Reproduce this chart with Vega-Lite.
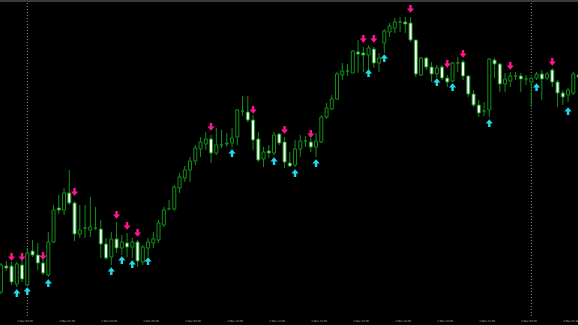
{
  "$schema": "https://vega.github.io/schema/vega-lite/v6.json",
  "width": 578,
  "height": 318,
  "autosize": "none",
  "padding": {"left": 0, "right": 0, "top": 0, "bottom": 7},
  "background": "#000000",
  "config": {"view": {"stroke": null}},
  "datasets": {
    "candles": [
      {"k":-5,"open":28,"high":57,"low":26,"close":55},
      {"k":-4,"open":54,"high":59,"low":49,"close":52},
      {"k":-3,"open":54,"high":58,"low":35,"close":38},
      {"k":-2,"open":36,"high":58,"low":33,"close":56},
      {"k":-1,"open":55,"high":60,"low":38,"close":41},
      {"k":0,"open":35,"high":72,"low":34,"close":67},
      {"k":1,"open":69,"high":80,"low":63,"close":65},
      {"k":2,"open":65,"high":77,"low":50,"close":57},
      {"k":3,"open":57,"high":67,"low":45,"close":47},
      {"k":4,"open":45,"high":88,"low":43,"close":78},
      {"k":5,"open":78,"high":115,"low":77,"close":110},
      {"k":6,"open":112,"high":125,"low":106,"close":110},
      {"k":7,"open":110,"high":132,"low":105,"close":127},
      {"k":8,"open":127,"high":150,"low":115,"close":117},
      {"k":9,"open":117,"high":119,"low":79,"close":86},
      {"k":10,"open":86,"high":115,"low":82,"close":90},
      {"k":11,"open":92,"high":115,"low":82,"close":92},
      {"k":12,"open":90,"high":123,"low":83,"close":93},
      {"k":13,"open":92,"high":113,"low":90,"close":92},
      {"k":14,"open":91,"high":100,"low":62,"close":76},
      {"k":15,"open":76,"high":82,"low":60,"close":62},
      {"k":16,"open":63,"high":88,"low":55,"close":81},
      {"k":17,"open":81,"high":98,"low":67,"close":72},
      {"k":18,"open":72,"high":85,"low":65,"close":78},
      {"k":19,"open":77,"high":87,"low":63,"close":73},
      {"k":20,"open":73,"high":82,"low":62,"close":78},
      {"k":21,"open":78,"high":80,"low":53,"close":59},
      {"k":22,"open":58,"high":75,"low":55,"close":73},
      {"k":23,"open":72,"high":82,"low":63,"close":78},
      {"k":24,"open":77,"high":88,"low":72,"close":81},
      {"k":25,"open":80,"high":100,"low":77,"close":97},
      {"k":26,"open":95,"high":113,"low":93,"close":110},
      {"k":27,"open":111,"high":120,"low":110,"close":111},
      {"k":28,"open":111,"high":135,"low":109,"close":133},
      {"k":29,"open":132,"high":147,"low":127,"close":143},
      {"k":30,"open":142,"high":154,"low":138,"close":150},
      {"k":31,"open":150,"high":163,"low":138,"close":159},
      {"k":32,"open":159,"high":175,"low":155,"close":172},
      {"k":33,"open":171,"high":183,"low":163,"close":178},
      {"k":34,"open":176,"high":188,"low":170,"close":181},
      {"k":35,"open":181,"high":185,"low":157,"close":167},
      {"k":36,"open":167,"high":192,"low":165,"close":175},
      {"k":37,"open":175,"high":190,"low":172,"close":175},
      {"k":38,"open":176,"high":187,"low":173,"close":177},
      {"k":39,"open":177,"high":192,"low":173,"close":182},
      {"k":40,"open":183,"high":211,"low":175,"close":210},
      {"k":41,"open":209,"high":224,"low":204,"close":209},
      {"k":42,"open":208,"high":224,"low":198,"close":200},
      {"k":43,"open":200,"high":205,"low":170,"close":180},
      {"k":44,"open":181,"high":188,"low":158,"close":160},
      {"k":45,"open":161,"high":173,"low":153,"close":168},
      {"k":46,"open":169,"high":175,"low":162,"close":167},
      {"k":47,"open":167,"high":188,"low":165,"close":185},
      {"k":48,"open":186,"high":187,"low":175,"close":177},
      {"k":49,"open":178,"high":183,"low":152,"close":158},
      {"k":50,"open":157,"high":168,"low":153,"close":154},
      {"k":51,"open":155,"high":180,"low":153,"close":171},
      {"k":52,"open":171,"high":185,"low":163,"close":179},
      {"k":53,"open":179,"high":184,"low":173,"close":179},
      {"k":54,"open":178,"high":185,"low":168,"close":173},
      {"k":55,"open":173,"high":187,"low":163,"close":179},
      {"k":56,"open":178,"high":205,"low":177,"close":203},
      {"k":57,"open":203,"high":217,"low":201,"close":212},
      {"k":58,"open":211,"high":225,"low":210,"close":221},
      {"k":59,"open":221,"high":248,"low":220,"close":246},
      {"k":60,"open":245,"high":257,"low":240,"close":249},
      {"k":61,"open":249,"high":256,"low":244,"close":249},
      {"k":62,"open":247,"high":270,"low":247,"close":269},
      {"k":63,"open":268,"high":280,"low":247,"close":266},
      {"k":64,"open":267,"high":273,"low":248,"close":265},
      {"k":65,"open":265,"high":275,"low":247,"close":272},
      {"k":66,"open":271,"high":273,"low":252,"close":257},
      {"k":67,"open":257,"high":267,"low":248,"close":262},
      {"k":68,"open":277,"high":291,"low":267,"close":289},
      {"k":69,"open":288,"high":297,"low":283,"close":294},
      {"k":70,"open":292,"high":302,"low":287,"close":298},
      {"k":71,"open":298,"high":303,"low":288,"close":298},
      {"k":72,"open":298,"high":303,"low":287,"close":296},
      {"k":73,"open":297,"high":303,"low":278,"close":280},
      {"k":74,"open":280,"high":280,"low":243,"close":246},
      {"k":75,"open":245,"high":263,"low":244,"close":262},
      {"k":76,"open":262,"high":263,"low":250,"close":253},
      {"k":77,"open":253,"high":258,"low":238,"close":246},
      {"k":78,"open":246,"high":255,"low":242,"close":252},
      {"k":79,"open":253,"high":255,"low":240,"close":242},
      {"k":80,"open":242,"high":245,"low":233,"close":238},
      {"k":81,"open":239,"high":258,"low":238,"close":257},
      {"k":82,"open":257,"high":263,"low":248,"close":257},
      {"k":83,"open":258,"high":260,"low":240,"close":244},
      {"k":84,"open":244,"high":245,"low":223,"close":226},
      {"k":85,"open":226,"high":230,"low":213,"close":215},
      {"k":86,"open":215,"high":220,"low":203,"close":207},
      {"k":87,"open":209,"high":218,"low":204,"close":209},
      {"k":88,"open":210,"high":262,"low":203,"close":261},
      {"k":89,"open":260,"high":262,"low":242,"close":256},
      {"k":90,"open":256,"high":257,"low":228,"close":236},
      {"k":91,"open":236,"high":247,"low":228,"close":241},
      {"k":92,"open":239,"high":248,"low":233,"close":244},
      {"k":93,"open":244,"high":248,"low":240,"close":244},
      {"k":94,"open":244,"high":247,"low":228,"close":241},
      {"k":95,"open":241,"high":245,"low":235,"close":241},
      {"k":96,"open":238,"high":243,"low":213,"close":242},
      {"k":97,"open":242,"high":248,"low":240,"close":246},
      {"k":98,"open":246,"high":250,"low":220,"close":241},
      {"k":99,"open":242,"high":248,"low":240,"close":246},
      {"k":100,"open":250,"high":252,"low":233,"close":238},
      {"k":101,"open":238,"high":240,"low":213,"close":227},
      {"k":102,"open":227,"high":230,"low":215,"close":223},
      {"k":103,"open":225,"high":232,"low":218,"close":230},
      {"k":104,"open":227,"high":248,"low":225,"close":246},
      {"k":105,"open":245,"high":247,"low":240,"close":243}
    ],
    "sell": [
      {"k":-3,"p":63},{"k":-1,"p":63},{"k":3,"p":64},{"k":9,"p":128},
      {"k":17,"p":105},{"k":19,"p":94},{"k":21,"p":87},{"k":35,"p":193},
      {"k":43,"p":210},{"k":49,"p":190},{"k":54,"p":186},{"k":64,"p":281},
      {"k":66,"p":281},{"k":73,"p":311},{"k":80,"p":256},{"k":83,"p":266},
      {"k":92,"p":254},{"k":100,"p":258}
    ],
    "buy": [
      {"k":-2,"p":27},{"k":0,"p":29},{"k":4,"p":37},{"k":16,"p":49},
      {"k":18,"p":60},{"k":20,"p":56},{"k":23,"p":59},{"k":39,"p":167},
      {"k":47,"p":159},{"k":51,"p":147},{"k":55,"p":157},{"k":65,"p":247},
      {"k":68,"p":262},{"k":78,"p":238},{"k":81,"p":233},{"k":88,"p":197},
      {"k":97,"p":233},{"k":103,"p":209}
    ],
    "sep": [{"k":0},{"k":96}],
    "top": [{"p":319}]
  },
  "layer": [
    {
      "data": {"name": "sep"},
      "mark": {"type": "rule", "color": "#8c8c8c", "strokeDash": [1, 2], "strokeWidth": 1},
      "encoding": {
        "x": {
          "field": "k", "type": "quantitative",
          "scale": {"domain": [-5.2, 104.895], "nice": false, "zero": false, "padding": 0},
          "axis": {
            "orient": "bottom",
            "values": [-6,-2,2,6,10,14,18,22,26,30,34,38,42,46,50,54,58,62,66,70,74,78,82,86,90,94,98,102],
            "labelExpr": "(2+floor(((datum.value+2)/4+24)/24))+' Mar '+((((datum.value+2)/4+24)%24)<10?'0':'')+(((datum.value+2)/4+24)%24)+':00'",
            "labelFont": "DejaVu Sans",
            "labelFontSize": 2.6,
            "labelColor": "#b0b0b0",
            "labelAlign": "left",
            "labelBaseline": "top",
            "labelPadding": 1.5,
            "labelOverlap": false,
            "labelFlush": false,
            "ticks": false,
            "domain": false,
            "grid": false,
            "title": null
          }
        }
      }
    },
    {
      "data": {"name": "top"},
      "mark": {"type": "rule", "color": "#3a3a3a", "strokeWidth": 2},
      "encoding": {
        "y": {"field": "p", "type": "quantitative", "scale": {"domain": [2, 320], "nice": false, "zero": false, "padding": 0}, "axis": null}
      }
    },
    {
      "data": {"name": "candles"},
      "mark": {"type": "rule", "color": "#12901a", "strokeWidth": 1},
      "encoding": {
        "x": {"field": "k", "type": "quantitative"},
        "y": {"field": "low", "type": "quantitative", "axis": null},
        "y2": {"field": "high"}
      }
    },
    {
      "data": {"name": "candles"},
      "mark": {"type": "bar", "size": 3, "stroke": "#12901a", "strokeWidth": 1},
      "encoding": {
        "x": {"field": "k", "type": "quantitative"},
        "y": {"field": "open", "type": "quantitative", "axis": null},
        "y2": {"field": "close"},
        "fill": {"condition": {"test": "datum.close < datum.open", "value": "#ffffff"}, "value": "#000000"}
      }
    },
    {
      "data": {"name": "sell"},
      "mark": {"type": "point", "filled": true, "opacity": 1, "size": 64, "color": "#ff1493",
               "shape": "M-0.3,-1L0.3,-1L0.3,-0.15L0.9,-0.15L0,0.95L-0.9,-0.15L-0.3,-0.15Z"},
      "encoding": {
        "x": {"field": "k", "type": "quantitative"},
        "y": {"field": "p", "type": "quantitative", "axis": null}
      }
    },
    {
      "data": {"name": "buy"},
      "mark": {"type": "point", "filled": true, "opacity": 1, "size": 64, "color": "#22dbea",
               "shape": "M-0.3,1L0.3,1L0.3,0.15L0.9,0.15L0,-0.95L-0.9,0.15L-0.3,0.15Z"},
      "encoding": {
        "x": {"field": "k", "type": "quantitative"},
        "y": {"field": "p", "type": "quantitative", "axis": null}
      }
    }
  ]
}
